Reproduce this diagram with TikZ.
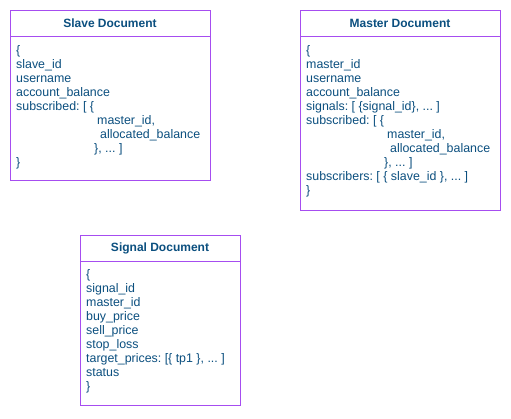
\documentclass[tikz,border=0pt]{standalone}
\usepackage{fontspec}
\setmainfont{Liberation Sans}
\frenchspacing
\definecolor{boxc}{HTML}{A64DF0}
\definecolor{txtc}{HTML}{0B4F7F}
\begin{document}
\begin{tikzpicture}[x=1pt,y=-1pt,
  boxframe/.style={draw=boxc,line width=0.9pt,fill=white,inner sep=0pt,anchor=north west},
  title/.style={font=\bfseries\fontsize{12}{14}\selectfont,text=txtc,inner sep=0pt,anchor=center},
  fld/.style={font=\fontsize{12.4}{14}\selectfont,text=txtc,inner sep=0pt,anchor=base west}]
\useasboundingbox (0,0) rectangle (511,419);
% Slave
\node[boxframe,minimum width=200pt,minimum height=170pt] (slave) at (10,10) {};
\draw[boxc,line width=0.9pt] (10,36) -- (210,36);
\node[title] (st) at (110,23) {Slave Document};
\node[fld] (s1) at (16,54.5) {\{};
\node[fld] (s2) at (16,68.5) {slave\_id};
\node[fld] (s3) at (16,82.5) {username};
\node[fld] (s4) at (16,96.5) {account\_balance};
\node[fld] (s5) at (16,110.5) {subscribed: [ \{};
\node[fld] (s6) at (97,124.5) {master\_id,};
\node[fld] (s7) at (100,138.5) {allocated\_balance};
\node[fld] (s8) at (94,152.5) {\}, ... ]};
\node[fld] (s9) at (16,166.5) {\}};
% Master
\node[boxframe,minimum width=200pt,minimum height=200pt] (master) at (300,10) {};
\draw[boxc,line width=0.9pt] (300,36) -- (500,36);
\node[title] (mt) at (400,23) {Master Document};
\node[fld] (m1) at (306,54.5) {\{};
\node[fld] (m2) at (306,68.5) {master\_id};
\node[fld] (m3) at (306,82.5) {username};
\node[fld] (m4) at (306,96.5) {account\_balance};
\node[fld] (m5) at (306,110.5) {signals: [ \{signal\_id\}, ... ]};
\node[fld] (m6) at (306,124.5) {subscribed: [ \{};
\node[fld] (m7) at (387,138.5) {master\_id,};
\node[fld] (m8) at (390,152.5) {allocated\_balance};
\node[fld] (m9) at (384,166.5) {\}, ... ]};
\node[fld] (m10) at (306,180.5) {subscribers: [ \{ slave\_id \}, ... ]};
\node[fld] (m11) at (306,194.5) {\}};
% Signal
\node[boxframe,minimum width=160pt,minimum height=170pt] (signal) at (80,235) {};
\draw[boxc,line width=0.9pt] (80,261) -- (240,261);
\node[title] (gt) at (160,248) {Signal Document};
\node[fld] (g1) at (86,278.5) {\{};
\node[fld] (g2) at (86,292.5) {signal\_id};
\node[fld] (g3) at (86,306.5) {master\_id};
\node[fld] (g4) at (86,320.5) {buy\_price};
\node[fld] (g5) at (86,334.5) {sell\_price};
\node[fld] (g6) at (86,348.5) {stop\_loss};
\node[fld] (g7) at (86,362.5) {target\_prices: [\{ tp1 \}, ... ]};
\node[fld] (g8) at (86,376.5) {status};
\node[fld] (g9) at (86,390.5) {\}};
\end{tikzpicture}
\end{document}
